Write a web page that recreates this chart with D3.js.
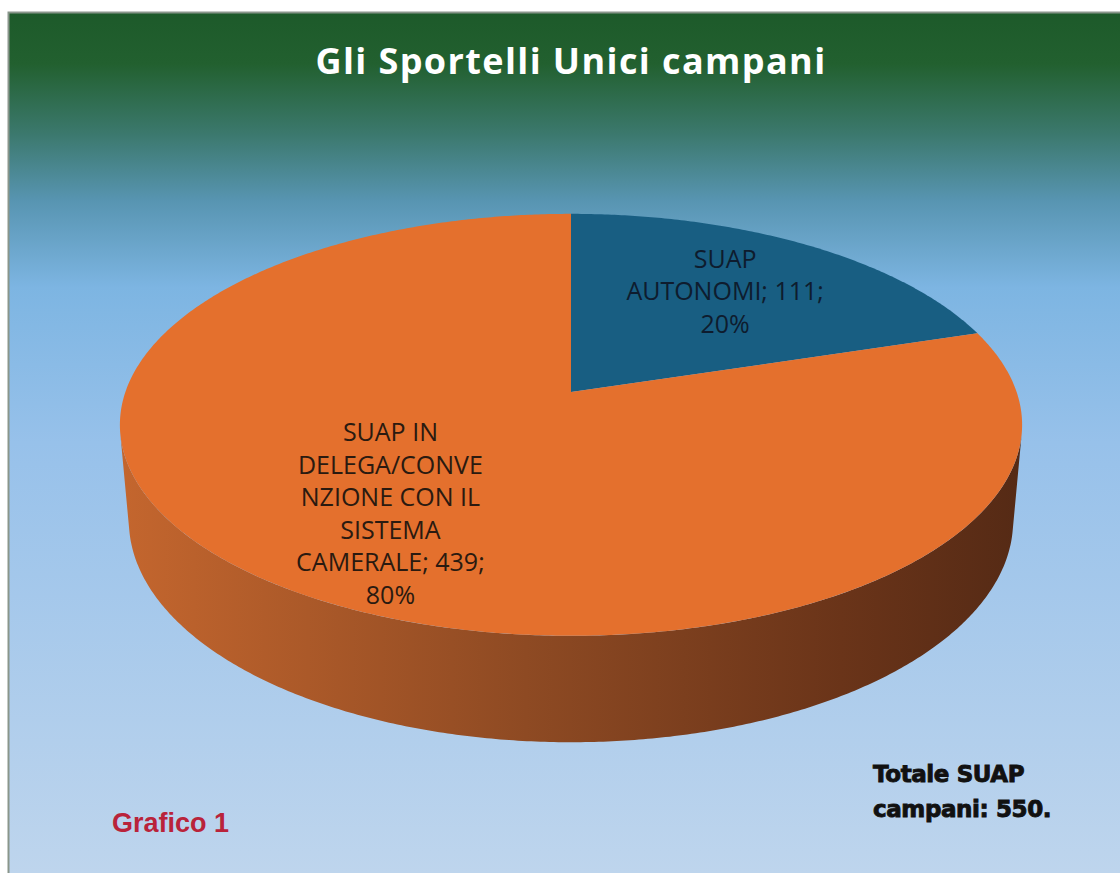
<!DOCTYPE html>
<html>
<head>
<meta charset="utf-8">
<script src="https://cdn.jsdelivr.net/npm/d3@7"></script>
<style>
  body { margin: 0; background: #fff; }
  svg { display: block; }
</style>
</head>
<body>
<div id="chart"></div>
<script>
// data
const categories = ["SUAP AUTONOMI", "SUAP IN DELEGA/CONVENZIONE CON IL SISTEMA CAMERALE"];
const values = [111, 439];
const percents = ["20%", "80%"];
const labelLines = [
  ["SUAP", "AUTONOMI; 111;", "20%"],
  ["SUAP IN", "DELEGA/CONVE", "NZIONE CON IL", "SISTEMA", "CAMERALE; 439;", "80%"]
];
const sliceColors = ["#185e82", "#e4702d"];
const labelColors = ["#0e1c2e", "#2a1a10"];
const labelShift = [-3, 9];
const titleText = "Gli Sportelli Unici campani";
const totalLines = ["Totale SUAP", "campani: 550."];
const noteText = "Grafico 1";

const W = 1120, H = 873;

const svg = d3.select("#chart").append("svg")
  .attr("width", W)
  .attr("height", H);

const defs = svg.append("defs");

// background gradient
const bg = defs.append("linearGradient")
  .attr("id", "bg")
  .attr("x1", 0).attr("y1", 0).attr("x2", 0).attr("y2", 1);
[[0, "#1d5a2a"], [0.06, "#22602f"], [0.14, "#3b786c"], [0.22, "#5895b2"],
 [0.32, "#7db5e2"], [0.5, "#97c1ea"], [1, "#bed5ed"]]
  .forEach(s => bg.append("stop").attr("offset", s[0]).attr("stop-color", s[1]));

svg.append("rect")
  .attr("x", 8).attr("y", 12)
  .attr("width", W - 8).attr("height", H - 12)
  .attr("fill", "url(#bg)");

svg.append("path")
  .attr("d", `M8.5,${H} L8.5,12.5 L${W},12.5`)
  .attr("fill", "none")
  .attr("stroke", "#8a968b")
  .attr("stroke-width", 2);

// 3D pie projection (perspective camera looking down on the disc)
const cam = {cx: 571, cy: 392, f: 2540, dist: 5.7, tilt: Math.asin(0.462), depth: 0.245};
const sinT = Math.sin(cam.tilt), cosT = Math.cos(cam.tilt);

function project(r, a, y) {
  const x = r * Math.sin(a);
  const z = -r * Math.cos(a);
  const yc = y * cosT - z * sinT;
  const d = cam.dist - (y * sinT + z * cosT);
  return [cam.cx + cam.f * x / d, cam.cy - cam.f * yc / d];
}

const pie = d3.pie().sort(null).value(d => d)(values);

// side wall gradient
const side = defs.append("linearGradient")
  .attr("id", "side")
  .attr("gradientUnits", "userSpaceOnUse")
  .attr("x1", 120).attr("x2", 1022).attr("y1", 0).attr("y2", 0);
[[0, "#c4662e"], [0.45, "#8e4a23"], [0.8, "#6a3419"], [1, "#552a15"]]
  .forEach(s => side.append("stop").attr("offset", s[0]).attr("stop-color", s[1]));

const line = d3.line();
const step = Math.PI / 360;

// visible part of the side wall
const aSil = Math.acos(-1 / (cam.dist * cosT));
const wallAngles = d3.range(aSil, 2 * Math.PI - aSil, step).concat([2 * Math.PI - aSil]);
const topArc = wallAngles.map(a => project(1, a, 0));
const botArc = wallAngles.map(a => project(1, a, -cam.depth)).reverse();

svg.append("path")
  .attr("d", line(topArc.concat(botArc)) + "Z")
  .attr("fill", "url(#side)");

// top face slices
svg.selectAll("path.slice")
  .data(pie)
  .join("path")
    .attr("class", "slice")
    .attr("fill", (d, i) => sliceColors[i])
    .attr("d", d => {
      const pts = d3.range(d.startAngle, d.endAngle, step).concat([d.endAngle])
        .map(a => project(1, a, 0));
      return line([project(0, 0, 0)].concat(pts)) + "Z";
    });

// data labels
const lh = 32.5;
svg.selectAll("text.lbl")
  .data(pie)
  .join("text")
    .attr("class", "lbl")
    .attr("text-anchor", "middle")
    .style("font-family", "'Open Sans', sans-serif")
    .style("font-size", "25px")
    .attr("fill", (d, i) => labelColors[i])
    .each(function(d, i) {
      const p = project(0.63, (d.startAngle + d.endAngle) / 2, 0);
      const lines = labelLines[i];
      const y0 = p[1] - (lines.length - 1) * lh / 2 + 8 + labelShift[i];
      d3.select(this).selectAll("tspan")
        .data(lines)
        .join("tspan")
          .attr("x", p[0])
          .attr("y", (t, j) => y0 + j * lh)
          .text(t => t);
    });

// title
svg.append("text")
  .attr("x", 571).attr("y", 74)
  .attr("text-anchor", "middle")
  .style("font-family", "'Open Sans', sans-serif")
  .style("font-weight", "700")
  .style("font-size", "36px")
  .style("letter-spacing", "1.4px")
  .attr("fill", "#ffffff")
  .text(titleText);

// total note
svg.append("text")
  .style("font-family", "'DejaVu Sans', sans-serif")
  .style("font-weight", "700")
  .style("font-size", "23px")
  .style("letter-spacing", "-0.4px")
  .attr("fill", "#111111")
  .attr("stroke", "#111111")
  .attr("stroke-width", 0.9)
  .selectAll("tspan")
  .data(totalLines)
  .join("tspan")
    .attr("x", 873)
    .attr("y", (t, j) => 782 + j * 35)
    .text(t => t);

svg.append("text")
  .attr("x", 112).attr("y", 832)
  .style("font-family", "'Liberation Sans', Arial, sans-serif")
  .style("font-weight", "700")
  .style("font-size", "27px")
  .attr("fill", "#b9233a")
  .text(noteText);
</script>
</body>
</html>
